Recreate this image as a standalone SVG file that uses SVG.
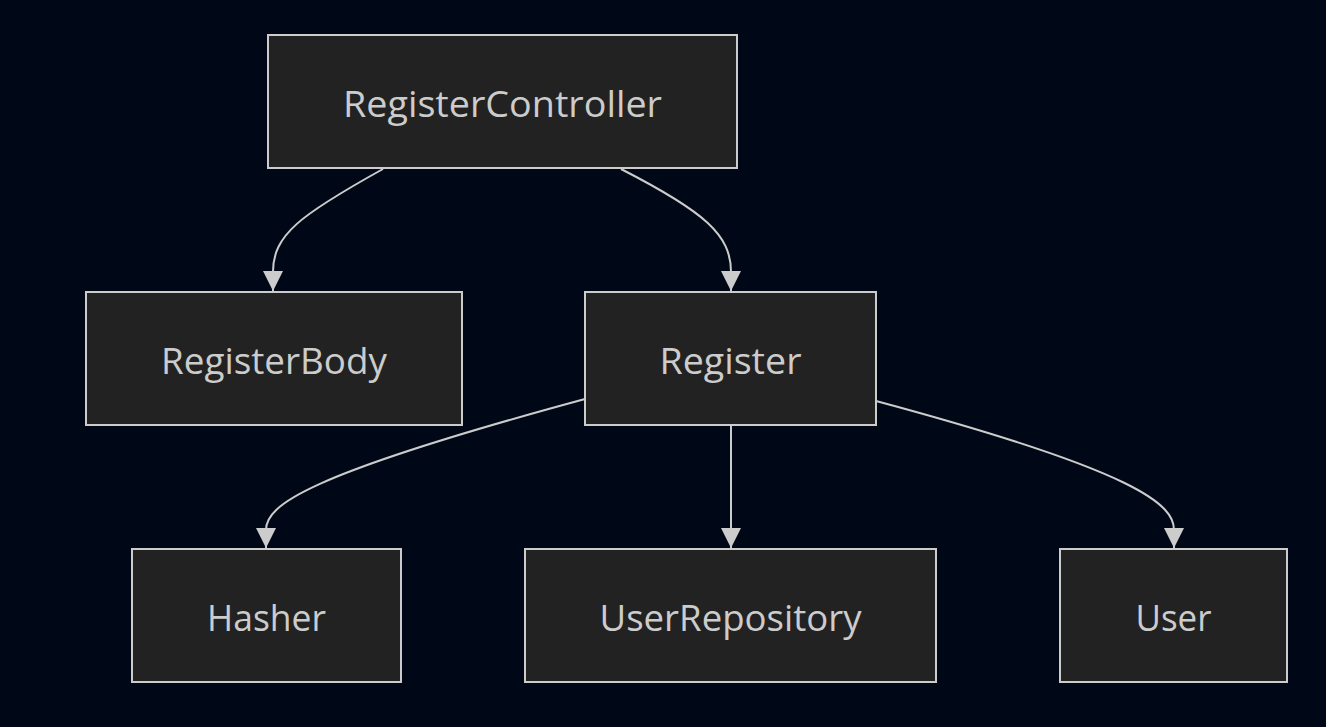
<svg xmlns="http://www.w3.org/2000/svg" width="1326" height="727" viewBox="0 0 1326 727">
<style>
.node rect{fill:#222222;stroke:#cccccc;stroke-width:2}
.node text{fill:#cccccc;font-family:"Open Sans","DejaVu Sans",sans-serif;font-size:37px;text-anchor:middle;dominant-baseline:central}
.edge{fill:none;stroke:#cccccc;stroke-width:2}
</style>
<defs>
<marker id="arr" markerUnits="userSpaceOnUse" markerWidth="22" markerHeight="20" refX="20" refY="10" orient="auto">
<path d="M0,0 L20,10 L0,20 Z" fill="#cccccc"/>
</marker>
</defs>
<rect width="1326" height="727" fill="#000818"/>
<g id="connectors">
<path class="edge" d="M383,169 C300,215 273,235 273,272 L273,291" marker-end="url(#arr)"/>
<path class="edge" d="M621,169 C705,212 731,235 731,272 L731,291" marker-end="url(#arr)"/>
<path class="edge" d="M585,399 C305,475 266,505 266,530 L266,548" marker-end="url(#arr)"/>
<path class="edge" d="M731,426 L731,548" marker-end="url(#arr)"/>
<path class="edge" d="M876,401 C1140,472 1174,505 1174,530 L1174,548" marker-end="url(#arr)"/>
</g>
<g id="RegisterController" class="node"><rect x="268" y="35" width="469" height="133"/><text x="502.5" y="102" textLength="319" lengthAdjust="spacingAndGlyphs">RegisterController</text></g>
<g id="RegisterBody" class="node"><rect x="86" y="292" width="376" height="133"/><text x="274" y="359" textLength="226" lengthAdjust="spacingAndGlyphs">RegisterBody</text></g>
<g id="Register" class="node"><rect x="585" y="292" width="291" height="133"/><text x="730.5" y="359" textLength="142" lengthAdjust="spacingAndGlyphs">Register</text></g>
<g id="Hasher" class="node"><rect x="132" y="549" width="269" height="133"/><text x="266.5" y="616" textLength="119" lengthAdjust="spacingAndGlyphs">Hasher</text></g>
<g id="UserRepository" class="node"><rect x="525" y="549" width="411" height="133"/><text x="730.5" y="616" textLength="262" lengthAdjust="spacingAndGlyphs">UserRepository</text></g>
<g id="User" class="node"><rect x="1060" y="549" width="227" height="133"/><text x="1173.5" y="616" textLength="76" lengthAdjust="spacingAndGlyphs">User</text></g>
</svg>
